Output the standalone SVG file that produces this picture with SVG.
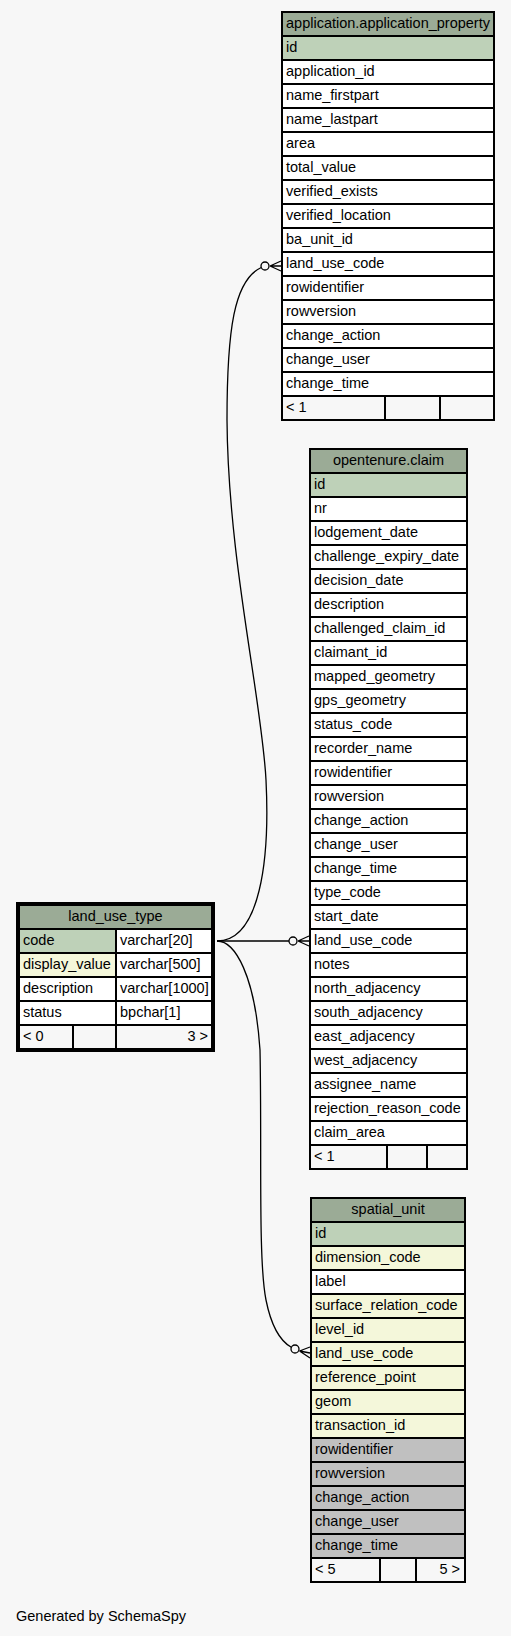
<svg xmlns="http://www.w3.org/2000/svg" width="511" height="1636" viewBox="0 0 511 1636">
<style>
text{font-family:"Liberation Sans",Arial,sans-serif;font-size:14.5px;fill:#000}
.c{stroke:#000;stroke-width:1}
.o{fill:none;stroke:#000;stroke-width:1}
.hdr{fill:#9BAB96}
.pk{fill:#BED1B8}
.ix{fill:#F4F7DA}
.wt{fill:#FFFFFF}
.gy{fill:#C0C0C0}
.ft{fill:#F7F7F7}
.mid{text-anchor:middle}
.end{text-anchor:end}
.edge{fill:none;stroke:#000;stroke-width:1.3}
.circ{fill:#F7F7F7;stroke:#000;stroke-width:1.3}
</style>
<rect x="0" y="0" width="511" height="1636" fill="#F7F7F7"/>

<g id="application_property">
<rect class="o" x="281.5" y="11.5" width="213" height="409"/>
<rect class="c hdr" x="282.5" y="12.5" width="211" height="23"/><text class="mid" x="388" y="28">application.application_property</text>
<rect class="c pk" x="282.5" y="36.5" width="211" height="23"/><text x="286" y="52">id</text>
<rect class="c wt" x="282.5" y="60.5" width="211" height="23"/><text x="286" y="76">application_id</text>
<rect class="c wt" x="282.5" y="84.5" width="211" height="23"/><text x="286" y="100">name_firstpart</text>
<rect class="c wt" x="282.5" y="108.5" width="211" height="23"/><text x="286" y="124">name_lastpart</text>
<rect class="c wt" x="282.5" y="132.5" width="211" height="23"/><text x="286" y="148">area</text>
<rect class="c wt" x="282.5" y="156.5" width="211" height="23"/><text x="286" y="172">total_value</text>
<rect class="c wt" x="282.5" y="180.5" width="211" height="23"/><text x="286" y="196">verified_exists</text>
<rect class="c wt" x="282.5" y="204.5" width="211" height="23"/><text x="286" y="220">verified_location</text>
<rect class="c wt" x="282.5" y="228.5" width="211" height="23"/><text x="286" y="244">ba_unit_id</text>
<rect class="c wt" x="282.5" y="252.5" width="211" height="23"/><text x="286" y="268">land_use_code</text>
<rect class="c wt" x="282.5" y="276.5" width="211" height="23"/><text x="286" y="292">rowidentifier</text>
<rect class="c wt" x="282.5" y="300.5" width="211" height="23"/><text x="286" y="316">rowversion</text>
<rect class="c wt" x="282.5" y="324.5" width="211" height="23"/><text x="286" y="340">change_action</text>
<rect class="c wt" x="282.5" y="348.5" width="211" height="23"/><text x="286" y="364">change_user</text>
<rect class="c wt" x="282.5" y="372.5" width="211" height="23"/><text x="286" y="388">change_time</text>
<rect class="c ft" x="282.5" y="396.5" width="102" height="23"/><text x="286" y="412">&lt; 1</text>
<rect class="c ft" x="385.5" y="396.5" width="54" height="23"/>
<rect class="c ft" x="440.5" y="396.5" width="53" height="23"/>
</g>

<g id="opentenure_claim">
<rect class="o" x="309.5" y="448.5" width="158" height="721"/>
<rect class="c hdr" x="310.5" y="449.5" width="156" height="23"/><text class="mid" x="388.5" y="465">opentenure.claim</text>
<rect class="c pk" x="310.5" y="473.5" width="156" height="23"/><text x="314" y="489">id</text>
<rect class="c wt" x="310.5" y="497.5" width="156" height="23"/><text x="314" y="513">nr</text>
<rect class="c wt" x="310.5" y="521.5" width="156" height="23"/><text x="314" y="537">lodgement_date</text>
<rect class="c wt" x="310.5" y="545.5" width="156" height="23"/><text x="314" y="561">challenge_expiry_date</text>
<rect class="c wt" x="310.5" y="569.5" width="156" height="23"/><text x="314" y="585">decision_date</text>
<rect class="c wt" x="310.5" y="593.5" width="156" height="23"/><text x="314" y="609">description</text>
<rect class="c wt" x="310.5" y="617.5" width="156" height="23"/><text x="314" y="633">challenged_claim_id</text>
<rect class="c wt" x="310.5" y="641.5" width="156" height="23"/><text x="314" y="657">claimant_id</text>
<rect class="c wt" x="310.5" y="665.5" width="156" height="23"/><text x="314" y="681">mapped_geometry</text>
<rect class="c wt" x="310.5" y="689.5" width="156" height="23"/><text x="314" y="705">gps_geometry</text>
<rect class="c wt" x="310.5" y="713.5" width="156" height="23"/><text x="314" y="729">status_code</text>
<rect class="c wt" x="310.5" y="737.5" width="156" height="23"/><text x="314" y="753">recorder_name</text>
<rect class="c wt" x="310.5" y="761.5" width="156" height="23"/><text x="314" y="777">rowidentifier</text>
<rect class="c wt" x="310.5" y="785.5" width="156" height="23"/><text x="314" y="801">rowversion</text>
<rect class="c wt" x="310.5" y="809.5" width="156" height="23"/><text x="314" y="825">change_action</text>
<rect class="c wt" x="310.5" y="833.5" width="156" height="23"/><text x="314" y="849">change_user</text>
<rect class="c wt" x="310.5" y="857.5" width="156" height="23"/><text x="314" y="873">change_time</text>
<rect class="c wt" x="310.5" y="881.5" width="156" height="23"/><text x="314" y="897">type_code</text>
<rect class="c wt" x="310.5" y="905.5" width="156" height="23"/><text x="314" y="921">start_date</text>
<rect class="c wt" x="310.5" y="929.5" width="156" height="23"/><text x="314" y="945">land_use_code</text>
<rect class="c wt" x="310.5" y="953.5" width="156" height="23"/><text x="314" y="969">notes</text>
<rect class="c wt" x="310.5" y="977.5" width="156" height="23"/><text x="314" y="993">north_adjacency</text>
<rect class="c wt" x="310.5" y="1001.5" width="156" height="23"/><text x="314" y="1017">south_adjacency</text>
<rect class="c wt" x="310.5" y="1025.5" width="156" height="23"/><text x="314" y="1041">east_adjacency</text>
<rect class="c wt" x="310.5" y="1049.5" width="156" height="23"/><text x="314" y="1065">west_adjacency</text>
<rect class="c wt" x="310.5" y="1073.5" width="156" height="23"/><text x="314" y="1089">assignee_name</text>
<rect class="c wt" x="310.5" y="1097.5" width="156" height="23"/><text x="314" y="1113">rejection_reason_code</text>
<rect class="c wt" x="310.5" y="1121.5" width="156" height="23"/><text x="314" y="1137">claim_area</text>
<rect class="c ft" x="310.5" y="1145.5" width="76" height="23"/><text x="314" y="1161">&lt; 1</text>
<rect class="c ft" x="387.5" y="1145.5" width="39" height="23"/>
<rect class="c ft" x="427.5" y="1145.5" width="39" height="23"/>
</g>

<g id="spatial_unit">
<rect class="o" x="310.5" y="1197.5" width="155" height="385"/>
<rect class="c hdr" x="311.5" y="1198.5" width="153" height="23"/><text class="mid" x="388" y="1214">spatial_unit</text>
<rect class="c pk" x="311.5" y="1222.5" width="153" height="23"/><text x="315" y="1238">id</text>
<rect class="c ix" x="311.5" y="1246.5" width="153" height="23"/><text x="315" y="1262">dimension_code</text>
<rect class="c wt" x="311.5" y="1270.5" width="153" height="23"/><text x="315" y="1286">label</text>
<rect class="c ix" x="311.5" y="1294.5" width="153" height="23"/><text x="315" y="1310">surface_relation_code</text>
<rect class="c ix" x="311.5" y="1318.5" width="153" height="23"/><text x="315" y="1334">level_id</text>
<rect class="c ix" x="311.5" y="1342.5" width="153" height="23"/><text x="315" y="1358">land_use_code</text>
<rect class="c ix" x="311.5" y="1366.5" width="153" height="23"/><text x="315" y="1382">reference_point</text>
<rect class="c ix" x="311.5" y="1390.5" width="153" height="23"/><text x="315" y="1406">geom</text>
<rect class="c ix" x="311.5" y="1414.5" width="153" height="23"/><text x="315" y="1430">transaction_id</text>
<rect class="c gy" x="311.5" y="1438.5" width="153" height="23"/><text x="315" y="1454">rowidentifier</text>
<rect class="c gy" x="311.5" y="1462.5" width="153" height="23"/><text x="315" y="1478">rowversion</text>
<rect class="c gy" x="311.5" y="1486.5" width="153" height="23"/><text x="315" y="1502">change_action</text>
<rect class="c gy" x="311.5" y="1510.5" width="153" height="23"/><text x="315" y="1526">change_user</text>
<rect class="c gy" x="311.5" y="1534.5" width="153" height="23"/><text x="315" y="1550">change_time</text>
<rect class="c ft" x="311.5" y="1558.5" width="68" height="23"/><text x="315" y="1574">&lt; 5</text>
<rect class="c ft" x="380.5" y="1558.5" width="35" height="23"/>
<rect class="c ft" x="416.5" y="1558.5" width="48" height="23"/><text class="end" x="460" y="1574">5 &gt;</text>
</g>

<g id="land_use_type">
<rect x="17.5" y="903.5" width="196" height="147" fill="none" stroke="#000" stroke-width="3"/>
<rect class="c hdr" x="19.5" y="905.5" width="192" height="23"/><text class="mid" x="115.5" y="921">land_use_type</text>
<rect class="c pk" x="19.5" y="929.5" width="96" height="23"/><text x="23" y="945">code</text>
<rect class="c wt" x="116.5" y="929.5" width="95" height="23"/><text x="120" y="945">varchar[20]</text>
<rect class="c ix" x="19.5" y="953.5" width="96" height="23"/><text x="23" y="969">display_value</text>
<rect class="c wt" x="116.5" y="953.5" width="95" height="23"/><text x="120" y="969">varchar[500]</text>
<rect class="c wt" x="19.5" y="977.5" width="96" height="23"/><text x="23" y="993">description</text>
<rect class="c wt" x="116.5" y="977.5" width="95" height="23"/><text x="120" y="993">varchar[1000]</text>
<rect class="c wt" x="19.5" y="1001.5" width="96" height="23"/><text x="23" y="1017">status</text>
<rect class="c wt" x="116.5" y="1001.5" width="95" height="23"/><text x="120" y="1017">bpchar[1]</text>
<rect class="c ft" x="19.5" y="1025.5" width="53" height="23"/><text x="23" y="1041">&lt; 0</text>
<rect class="c ft" x="73.5" y="1025.5" width="42" height="23"/>
<rect class="c ft" x="116.5" y="1025.5" width="95" height="23"/><text class="end" x="208" y="1041">3 &gt;</text>
</g>

<g id="connectors">
<path class="edge" d="M217,941 C260,941 270,860 266,780 C262,700 228,560 227,420 C227,330 234,280 261.3,267.5"/>
<circle class="circ" cx="265" cy="266" r="4"/>
<path class="edge" d="M270,266 L281,261 M270,266 L281,266 M270,266 L281,271"/>

<path class="edge" d="M217,941 L289,941"/>
<circle class="circ" cx="293" cy="941" r="4"/>
<path class="edge" d="M298,941 L309,936 M298,941 L309,941 M298,941 L309,946"/>

<path class="edge" d="M217,941 C235,941 255,975 260,1050 C262,1150 258,1260 266,1300 C272,1330 282,1342 291.3,1347.3"/>
<circle class="circ" cx="295" cy="1349" r="4"/>
<path class="edge" d="M299.5,1351 L310,1347 M299.5,1351 L310,1353 M299.5,1351 L310,1358"/>
</g>

<text x="16" y="1621">Generated by SchemaSpy</text>
</svg>
